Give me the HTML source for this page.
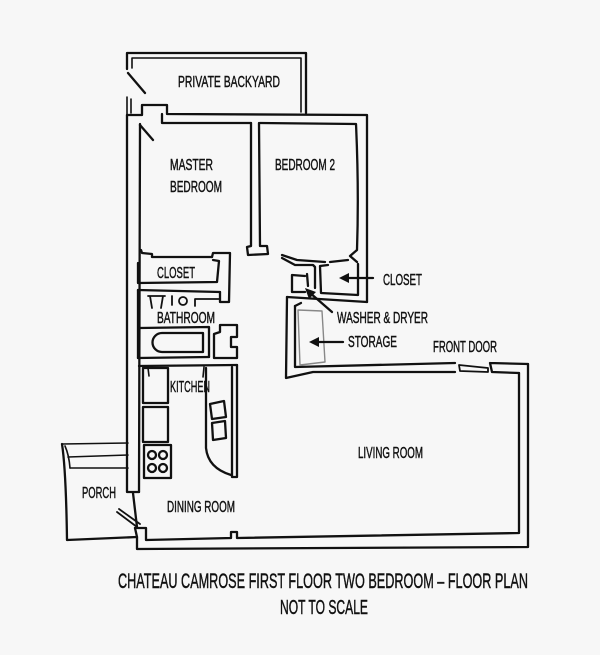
<!DOCTYPE html>
<html><head><meta charset="utf-8"><style>
html,body{margin:0;padding:0;background:#f7f7f7;}
svg{display:block;}
text{font-family:"Liberation Sans",sans-serif;fill:#111;stroke:#111;stroke-width:0.45;}
</style></head><body>
<svg width="600" height="655" viewBox="0 0 600 655" xmlns="http://www.w3.org/2000/svg">
<rect width="600" height="655" fill="#f7f7f7"/>
<g fill="none" stroke="#111" stroke-width="2.3" stroke-linejoin="round" stroke-linecap="round">
<!-- backyard -->
<path d="M127,69 L127,53 L306,53 L306,113"/>
<path d="M132,68 L132,58 L301,58 L301,112" stroke-width="1.6"/>
<path d="M128,73 L145,93"/>
<path d="M127,97 L127,115 M131,99 L131,113" stroke-width="1.6"/>
<!-- house top -->
<path d="M127,115 L142,115 L142,105 L167,105 L167,114 L367,115 L367,302"/>
<path d="M162,114 L162,123 L251,123"/>
<path d="M260,123 L356,124 Q359,190 357,250 L350,256 L357,262"/>
<path d="M140,125 L153,140"/>
<!-- bedroom divider -->
<path d="M251,123 L251,246 L247,247 L248,255 L268,254 L267,246 L260,246 L259,123"/>
<!-- left walls -->
<path d="M127,115 L127,492 L139,492"/>
<path d="M140,124 L139,492"/>
<path d="M133,493 L137,527"/>
<!-- master bottom + closet -->
<path d="M141,250 L142,253 L152,254 L152,257 L212,257"/>
<path d="M212,257 L213,253 L230,253 L229,302 L220,302 L220,292"/>
<path d="M138,263 L138,283 L217,282 L219,261 L213,260"/>
<!-- bathroom -->
<path d="M138,290 L220,292"/>
<path d="M148,296 L165,296 M150,296 L152,308 M163,296 L161,308 M172,296 L172,305" stroke-width="1.8"/>
<circle cx="183" cy="301" r="4" stroke-width="1.8"/>
<path d="M195,306 L195,299 L220,299" stroke-width="1.8"/>
<path d="M138,290 L138,358"/>
<path d="M140,328 L209,327 L209,357"/>
<path d="M162,333 L203,333 L203,352 L162,352 A9.5,9.5 0 0 1 162,333 Z"/>
<path d="M138,358 L209,357"/>
<path d="M214,358 L214,334 L220,332 L220,325 L237,325 L237,337 L231,337 L231,347 L237,347 L237,358 L214,358"/>
<!-- kitchen -->
<path d="M139,366 L237,365"/>
<rect x="143" y="368" width="25" height="35"/>
<rect x="143" y="407" width="25" height="35"/>
<rect x="144" y="445" width="27" height="33"/>
<circle cx="152" cy="455" r="4"/><circle cx="163" cy="455" r="4"/>
<circle cx="152" cy="468" r="4"/><circle cx="163" cy="468" r="4"/>
<path d="M148,368 L149,376 M204,367 L203,377" stroke-width="1.6"/>
<path d="M206,368 L206,448 Q208,468 231,475"/>
<path d="M232,367 L232,477 L237,477 L237,365"/>
<path d="M210,404 L224,401 L226,417 L212,419 Z"/>
<path d="M212,423 L225,421 L226,438 L213,440 Z"/>
<!-- porch -->
<path d="M62,444 Q66,470 67,540 L137,537"/>
<path d="M65,446 Q69,455 70,468" stroke-width="1.6"/>
<path d="M62,444 L128,443" stroke-width="1.6"/>
<path d="M68,457 L128,455" stroke-width="1.6"/>
<path d="M70,468 L128,468" stroke-width="1.6"/>
<path d="M117,512 L137,527 M119,509 L140,524" stroke-width="1.8"/>
<!-- bottom walls -->
<path d="M135,528 L146,528 L146,540 L231,538 L231,532 L237,532 L237,538 L519,533 L519,373"/>
<path d="M135,528 L137,537 L137,549 L528,547 L528,364"/>
<!-- living room top -->
<path d="M295,306 L295,367 L455,363"/>
<path d="M287,297 L286,378 L313,372 L455,372"/>
<path d="M459,365 L488,368 L488,372 L460,371 Z" stroke-width="1.8"/>
<path d="M490,363 L528,364 M492,372 L519,373 M490,363 L492,372"/>
<!-- storage / washer / closet -->
<path d="M287,297 L367,302"/>
<path d="M295,306 L301,303"/>
<path d="M298,310 L322,311 L325,362 L300,365 Z" stroke="#888" stroke-width="1.4"/>
<path d="M282,255 L297,260 L325,262"/>
<path d="M330,262 L348,260"/>
<path d="M320,266 L328,265 M320,266 L321,293 L358,295 L358,264"/>
<path d="M282,258 L295,265 L313,265 L315,267 L315,288"/>
<path d="M305,276 L292,275 L292,292 L305,292 M307,274 L308,286" />
<!-- arrows -->
<path d="M373,278 L344,278"/>
<path d="M332,312 L309,292"/>
<path d="M343,342 L314,342"/>
</g>
<g fill="#111">
<polygon points="339,278 349,273 349,283"/>
<polygon points="305,288 316,292 309,299"/>
<polygon points="309,342 319,337 319,347"/>
</g>
<g font-size="16">
<text x="178" y="87" textLength="102" lengthAdjust="spacingAndGlyphs">PRIVATE BACKYARD</text>
<text x="170" y="170" textLength="43" lengthAdjust="spacingAndGlyphs">MASTER</text>
<text x="170" y="192" textLength="52" lengthAdjust="spacingAndGlyphs">BEDROOM</text>
<text x="275" y="170" textLength="60" lengthAdjust="spacingAndGlyphs">BEDROOM 2</text>
<text x="157" y="278" textLength="38" lengthAdjust="spacingAndGlyphs">CLOSET</text>
<text x="157" y="323" textLength="58" lengthAdjust="spacingAndGlyphs">BATHROOM</text>
<text x="383" y="285" textLength="39" lengthAdjust="spacingAndGlyphs">CLOSET</text>
<text x="337" y="323" textLength="91" lengthAdjust="spacingAndGlyphs">WASHER &amp; DRYER</text>
<text x="348" y="347" textLength="49" lengthAdjust="spacingAndGlyphs">STORAGE</text>
<text x="433" y="352" textLength="64" lengthAdjust="spacingAndGlyphs">FRONT DOOR</text>
<text x="170" y="392" textLength="40" lengthAdjust="spacingAndGlyphs">KITCHEN</text>
<text x="358" y="458" textLength="65" lengthAdjust="spacingAndGlyphs">LIVING ROOM</text>
<text x="82" y="498" textLength="34" lengthAdjust="spacingAndGlyphs">PORCH</text>
<text x="167" y="512" textLength="68" lengthAdjust="spacingAndGlyphs">DINING ROOM</text>
</g>
<text x="118" y="588" font-size="21" textLength="410" lengthAdjust="spacingAndGlyphs">CHATEAU CAMROSE FIRST FLOOR TWO BEDROOM – FLOOR PLAN</text>
<text x="280" y="614" font-size="20" textLength="88" lengthAdjust="spacingAndGlyphs">NOT TO SCALE</text>
</svg>
</body></html>
